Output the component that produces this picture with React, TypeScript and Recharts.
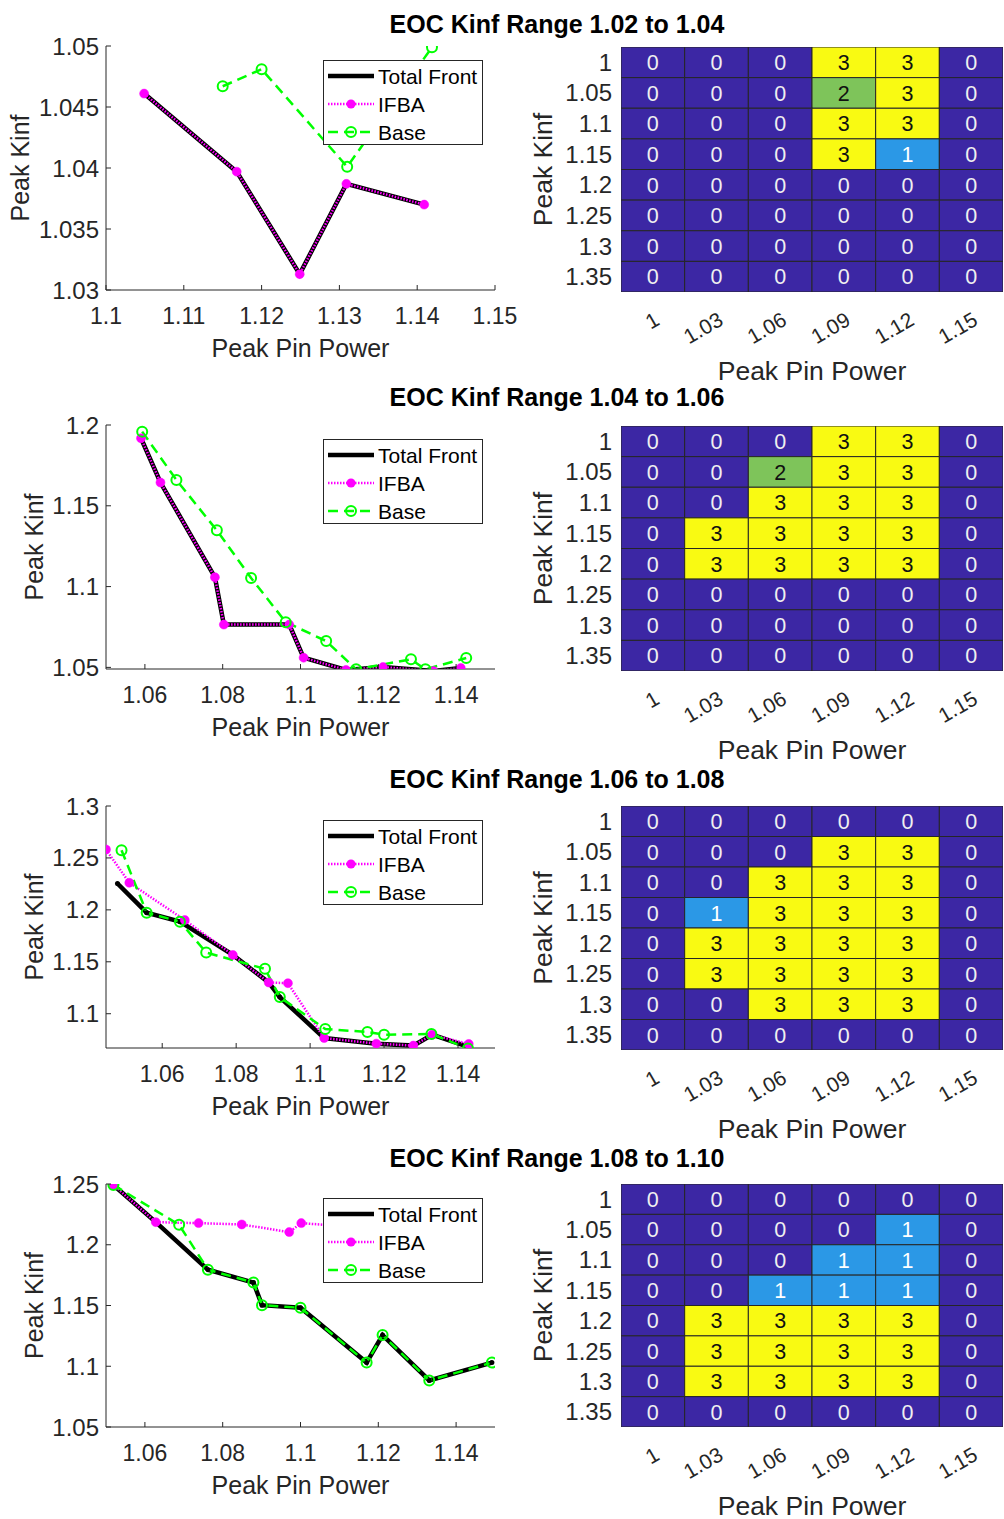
import React from 'react';
import { LineChart, Line, XAxis, YAxis, Legend, ScatterChart, Scatter } from 'recharts';

const FONT = '"Liberation Sans", Arial, Helvetica, sans-serif';
const AXIS = '#262626';
const C_FRONT = '#000000';
const C_IFBA = '#ff00ff';
const C_BASE = '#00ff00';

// ---------- Titles ----------
const TITLES = [
  'EOC Kinf Range 1.02 to 1.04',
  'EOC Kinf Range 1.04 to 1.06',
  'EOC Kinf Range 1.06 to 1.08',
  'EOC Kinf Range 1.08 to 1.10',
];

// ---------- Panel 1 ----------
const P1_FRONT_X = [1.1049, 1.1168, 1.1249, 1.1309, 1.1409];
const P1_FRONT_Y = [1.0461, 1.0397, 1.0313, 1.0387, 1.037];
const P1_IFBA_X = [1.1049, 1.1168, 1.1249, 1.1309, 1.1409];
const P1_IFBA_Y = [1.0461, 1.0397, 1.0313, 1.0387, 1.037];
const P1_BASE_X = [1.115, 1.12, 1.131, 1.1419];
const P1_BASE_Y = [1.0467, 1.0481, 1.0401, 1.0499];
const P1_X_TICKS = [1.1, 1.11, 1.12, 1.13, 1.14, 1.15];
const P1_Y_TICKS = [1.03, 1.035, 1.04, 1.045, 1.05];

// ---------- Panel 2 ----------
const P2_FRONT_X = [1.059, 1.064, 1.078, 1.0803, 1.0971, 1.1008, 1.1117, 1.1212, 1.1342, 1.1412];
const P2_FRONT_Y = [1.1918, 1.1644, 1.1058, 1.0765, 1.0765, 1.056, 1.0484, 1.0502, 1.0477, 1.0496];
const P2_IFBA_X = [1.059, 1.064, 1.078, 1.0803, 1.0971, 1.1008, 1.1117, 1.1212, 1.1342, 1.1412];
const P2_IFBA_Y = [1.1918, 1.1644, 1.1058, 1.0765, 1.0765, 1.056, 1.0484, 1.0502, 1.0477, 1.0496];
const P2_BASE_X = [1.0593, 1.0681, 1.0785, 1.0873, 1.0962, 1.1066, 1.1143, 1.1284, 1.1321, 1.1426];
const P2_BASE_Y = [1.1959, 1.166, 1.1348, 1.1053, 1.078, 1.0663, 1.0488, 1.055, 1.0488, 1.0558];
const P2_X_TICKS = [1.06, 1.08, 1.1, 1.12, 1.14];
const P2_Y_TICKS = [1.05, 1.1, 1.15, 1.2];

// ---------- Panel 3 ----------
const P3_FRONT_X = [1.0479, 1.0558, 1.0648, 1.0791, 1.0888, 1.0918, 1.1038, 1.1179, 1.1279, 1.133, 1.1429];
const P3_FRONT_Y = [1.2254, 1.1973, 1.1886, 1.1566, 1.1301, 1.116, 1.0766, 1.0712, 1.0693, 1.0798, 1.068];
const P3_IFBA_X = [1.0448, 1.0511, 1.0661, 1.0791, 1.0888, 1.094, 1.1038, 1.1179, 1.1279, 1.133, 1.1429];
const P3_IFBA_Y = [1.2581, 1.2261, 1.1902, 1.1566, 1.1301, 1.1294, 1.0766, 1.0712, 1.0693, 1.0798, 1.0709];
const P3_BASE_X = [1.049, 1.0558, 1.0648, 1.0719, 1.0878, 1.0918, 1.1041, 1.1155, 1.12, 1.1328, 1.1427];
const P3_BASE_Y = [1.2574, 1.1973, 1.1886, 1.1589, 1.1432, 1.116, 1.0853, 1.0824, 1.0798, 1.0805, 1.0665];
const P3_X_TICKS = [1.06, 1.08, 1.1, 1.12, 1.14];
const P3_Y_TICKS = [1.1, 1.15, 1.2, 1.25, 1.3];

// ---------- Panel 4 ----------
const P4_FRONT_X = [1.0519, 1.0628, 1.0762, 1.0879, 1.0901, 1.1, 1.117, 1.1211, 1.1331, 1.1492];
const P4_FRONT_Y = [1.2492, 1.2186, 1.1795, 1.1689, 1.1503, 1.1481, 1.103, 1.1257, 1.0883, 1.103];
const P4_IFBA_X = [1.0519, 1.0628, 1.0738, 1.0849, 1.0971, 1.1002, 1.112];
const P4_IFBA_Y = [1.2492, 1.2186, 1.2178, 1.2167, 1.2104, 1.2178, 1.215];
const P4_BASE_X = [1.0519, 1.0688, 1.0762, 1.0879, 1.0901, 1.1, 1.117, 1.1211, 1.1331, 1.1492];
const P4_BASE_Y = [1.2492, 1.2164, 1.1795, 1.1689, 1.1503, 1.1481, 1.103, 1.1257, 1.0883, 1.103];
const P4_X_TICKS = [1.06, 1.08, 1.1, 1.12, 1.14];
const P4_Y_TICKS = [1.05, 1.1, 1.15, 1.2, 1.25];

// ---------- Heatmaps ----------
const HM_COLS = ['1', '1.03', '1.06', '1.09', '1.12', '1.15'];
const HM_ROWS = ['1', '1.05', '1.1', '1.15', '1.2', '1.25', '1.3', '1.35'];
const HM1 = [
  [0, 0, 0, 3, 3, 0],
  [0, 0, 0, 2, 3, 0],
  [0, 0, 0, 3, 3, 0],
  [0, 0, 0, 3, 1, 0],
  [0, 0, 0, 0, 0, 0],
  [0, 0, 0, 0, 0, 0],
  [0, 0, 0, 0, 0, 0],
  [0, 0, 0, 0, 0, 0],
];
const HM2 = [
  [0, 0, 0, 3, 3, 0],
  [0, 0, 2, 3, 3, 0],
  [0, 0, 3, 3, 3, 0],
  [0, 3, 3, 3, 3, 0],
  [0, 3, 3, 3, 3, 0],
  [0, 0, 0, 0, 0, 0],
  [0, 0, 0, 0, 0, 0],
  [0, 0, 0, 0, 0, 0],
];
const HM3 = [
  [0, 0, 0, 0, 0, 0],
  [0, 0, 0, 3, 3, 0],
  [0, 0, 3, 3, 3, 0],
  [0, 1, 3, 3, 3, 0],
  [0, 3, 3, 3, 3, 0],
  [0, 3, 3, 3, 3, 0],
  [0, 0, 3, 3, 3, 0],
  [0, 0, 0, 0, 0, 0],
];
const HM4 = [
  [0, 0, 0, 0, 0, 0],
  [0, 0, 0, 0, 1, 0],
  [0, 0, 0, 1, 1, 0],
  [0, 0, 1, 1, 1, 0],
  [0, 3, 3, 3, 3, 0],
  [0, 3, 3, 3, 3, 0],
  [0, 3, 3, 3, 3, 0],
  [0, 0, 0, 0, 0, 0],
];

const HM_FILL: Record<number, string> = { 0: '#3c27a4', 1: '#2b98e6', 2: '#7ec45a', 3: '#f9fa12' };
const HM_TEXT: Record<number, string> = { 0: '#f0f0f0', 1: '#ffffff', 2: '#111111', 3: '#111111' };

const zip = (xs: number[], ys: number[]) => xs.map((x, i) => ({ x, y: ys[i] }));

// ---------- Tick components ----------
const BottomTick = (props: any) => {
  const { x, y, payload } = props;
  return (
    <g>
      <line x1={x} y1={y} x2={x} y2={y - 5} stroke={AXIS} strokeWidth={1} />
      <text x={x} y={y + 34} textAnchor="middle" fill={AXIS} fontSize={23} fontFamily={FONT}>
        {String(payload.value)}
      </text>
    </g>
  );
};
const TopTick = (props: any) => {
  const { x, y } = props;
  return <line x1={x} y1={y} x2={x} y2={y + 5} stroke={AXIS} strokeWidth={1} />;
};
const LeftTick = (props: any) => {
  const { x, y, payload } = props;
  return (
    <g>
      <line x1={x} y1={y} x2={x + 5} y2={y} stroke={AXIS} strokeWidth={1} />
      <text x={x - 7} y={y + 8.5} textAnchor="end" fill={AXIS} fontSize={24} fontFamily={FONT}>
        {String(payload.value)}
      </text>
    </g>
  );
};
const RightTick = (props: any) => {
  const { x, y } = props;
  return <line x1={x} y1={y} x2={x - 5} y2={y} stroke={AXIS} strokeWidth={1} />;
};

// ---------- Legend ----------
const LegendBox = () => (
  <div
    style={{
      width: 160,
      height: 85,
      background: '#ffffff',
      border: `1px solid ${AXIS}`,
      boxSizing: 'border-box',
    }}
  >
    <svg width={158} height={83} style={{ display: 'block' }}>
      <line x1={4} x2={50} y1={15} y2={15} stroke={C_FRONT} strokeWidth={4.5} />
      <text x={54} y={22.5} fontSize={21} fontFamily={FONT} fill="#000">Total Front</text>
      <line x1={4} x2={50} y1={43} y2={43} stroke={C_IFBA} strokeWidth={2.5} strokeDasharray="1.5 1.5" />
      <circle cx={27} cy={43} r={4.5} fill={C_IFBA} />
      <text x={54} y={50.5} fontSize={21} fontFamily={FONT} fill="#000">IFBA</text>
      <line x1={4} x2={50} y1={71} y2={71} stroke={C_BASE} strokeWidth={2.5} strokeDasharray="10 6" />
      <circle cx={27} cy={71} r={5} fill="none" stroke={C_BASE} strokeWidth={2} />
      <text x={54} y={78.5} fontSize={21} fontFamily={FONT} fill="#000">Base</text>
    </svg>
  </div>
);

// ---------- Line panel ----------
type LinePanelProps = {
  plotTop: number;
  plotBottom: number;
  xDomain: [number, number];
  xTicks: number[];
  yDomain: [number, number];
  yTicks: number[];
  front: { x: number; y: number }[];
  ifba: { x: number; y: number }[];
  base: { x: number; y: number }[];
  yLabelX: number;
};

function LinePanel(p: LinePanelProps) {
  const MT = 20;
  const MB = 80;
  const W = 530;
  const plotH = p.plotBottom - p.plotTop;
  const H = MT + plotH + MB;
  return (
    <div style={{ position: 'absolute', left: 0, top: p.plotTop - MT, width: W, height: H }}>
      <LineChart width={W} height={H} margin={{ top: MT, right: 35, bottom: 0, left: 0 }}>
        <XAxis
          xAxisId="b"
          type="number"
          dataKey="x"
          domain={p.xDomain}
          ticks={p.xTicks}
          interval={0}
          allowDataOverflow
          height={MB}
          tickSize={0}
          tickMargin={0}
          tickLine={false}
          axisLine={{ stroke: AXIS, strokeWidth: 1 }}
          tick={BottomTick}
          label={{
            value: 'Peak Pin Power',
            position: 'insideBottom',
            offset: MB - 67,
            fill: AXIS,
            fontSize: 25,
            fontFamily: FONT,
          }}
        />
        <XAxis
          xAxisId="t"
          orientation="top"
          type="number"
          domain={p.xDomain}
          ticks={p.xTicks}
          interval={0}
          allowDataOverflow
          height={0}
          tickSize={0}
          tickMargin={0}
          tickLine={false}
          axisLine={{ stroke: AXIS, strokeWidth: 1 }}
          tick={TopTick}
        />
        <YAxis
          yAxisId="l"
          type="number"
          domain={p.yDomain}
          ticks={p.yTicks}
          interval={0}
          allowDataOverflow
          width={106}
          tickSize={0}
          tickMargin={0}
          tickLine={false}
          axisLine={{ stroke: AXIS, strokeWidth: 1 }}
          tick={LeftTick}
          label={{
            value: 'Peak Kinf',
            angle: -90,
            position: 'insideLeft',
            offset: p.yLabelX,
            fill: AXIS,
            fontSize: 25,
            fontFamily: FONT,
            style: { textAnchor: 'middle' },
          }}
        />
        <YAxis
          yAxisId="r"
          orientation="right"
          type="number"
          domain={p.yDomain}
          ticks={p.yTicks}
          interval={0}
          allowDataOverflow
          width={0}
          tickSize={0}
          tickMargin={0}
          tickLine={false}
          axisLine={{ stroke: AXIS, strokeWidth: 1 }}
          tick={RightTick}
        />
        <Line
          xAxisId="b"
          yAxisId="l"
          data={p.front}
          dataKey="y"
          stroke={C_FRONT}
          strokeWidth={4.5}
          dot={{ r: 2.5, fill: C_FRONT, stroke: C_FRONT, strokeWidth: 0 }}
          activeDot={false}
          isAnimationActive={false}
        />
        <Line
          xAxisId="b"
          yAxisId="l"
          data={p.ifba}
          dataKey="y"
          stroke={C_IFBA}
          strokeWidth={2.5}
          strokeDasharray="1.5 1.5"
          dot={{ r: 4.5, fill: C_IFBA, stroke: C_IFBA, strokeWidth: 0.5, strokeDasharray: 'none' }}
          activeDot={false}
          isAnimationActive={false}
        />
        <Line
          xAxisId="b"
          yAxisId="l"
          data={p.base}
          dataKey="y"
          stroke={C_BASE}
          strokeWidth={2.5}
          strokeDasharray="10 6"
          dot={{ r: 5, fill: 'none', stroke: C_BASE, strokeWidth: 2, strokeDasharray: 'none' }}
          activeDot={false}
          isAnimationActive={false}
        />
        <Legend
          layout="vertical"
          align="center"
          verticalAlign="middle"
          content={LegendBox}
          wrapperStyle={{ left: 322.7, top: MT + 14, width: 160, height: 85 }}
        />
      </LineChart>
    </div>
  );
}

// ---------- Heatmap panel ----------
const HmXTick = (props: any) => {
  const { x, y, payload } = props;
  const label = HM_COLS[Math.floor(payload.value)];
  const px = x + 8;
  const py = y + 32;
  return (
    <text
      x={px}
      y={py}
      transform={`rotate(-30 ${px} ${py})`}
      textAnchor="end"
      fontSize={21}
      fontFamily={FONT}
      fill={AXIS}
    >
      {label}
    </text>
  );
};
const HmYTick = (props: any) => {
  const { x, y, payload } = props;
  const label = HM_ROWS[Math.floor(payload.value)];
  return (
    <text x={x - 9} y={y + 8.5} textAnchor="end" fontSize={24} fontFamily={FONT} fill={AXIS}>
      {label}
    </text>
  );
};

type HeatPanelProps = { plotTop: number; plotBottom: number; counts: number[][] };

function HeatPanel(p: HeatPanelProps) {
  const LEFT = 520;
  const W = 484;
  const MT = 10;
  const MB = 100;
  const YW = 101;
  const plotW = W - YW - 1;
  const plotH = p.plotBottom - p.plotTop;
  const H = MT + plotH + MB;
  const cw = plotW / HM_COLS.length;
  const ch = plotH / HM_ROWS.length;
  const cells = p.counts.flatMap((row, r) => row.map((v, c) => ({ x: c + 0.5, y: r + 0.5, v })));
  const colTicks = HM_COLS.map((_, i) => i + 0.5);
  const rowTicks = HM_ROWS.map((_, i) => i + 0.5);
  const Cell = (props: any) => {
    const { cx, cy, payload } = props;
    const v = payload.v as number;
    return (
      <g>
        <rect x={cx - cw / 2} y={cy - ch / 2} width={cw} height={ch} fill={HM_FILL[v]} stroke="#262626" strokeWidth={1} />
        <text x={cx} y={cy + 7.8} textAnchor="middle" fontSize={21.5} fontFamily={FONT} fill={HM_TEXT[v]}>
          {String(v)}
        </text>
      </g>
    );
  };
  return (
    <div style={{ position: 'absolute', left: LEFT, top: p.plotTop - MT, width: W, height: H }}>
      <ScatterChart width={W} height={H} margin={{ top: MT, right: 1, bottom: 0, left: 0 }}>
        <XAxis
          type="number"
          dataKey="x"
          domain={[0, HM_COLS.length]}
          ticks={colTicks}
          interval={0}
          allowDataOverflow
          height={MB}
          tickSize={0}
          tickMargin={0}
          tickLine={false}
          axisLine={false}
          tick={HmXTick}
          label={{
            value: 'Peak Pin Power',
            position: 'insideBottom',
            offset: MB - 88,
            fill: AXIS,
            fontSize: 26.5,
            fontFamily: FONT,
          }}
        />
        <YAxis
          type="number"
          dataKey="y"
          domain={[0, HM_ROWS.length]}
          reversed
          ticks={rowTicks}
          interval={0}
          allowDataOverflow
          width={YW}
          tickSize={0}
          tickMargin={0}
          tickLine={false}
          axisLine={false}
          tick={HmYTick}
          label={{
            value: 'Peak Kinf',
            angle: -90,
            position: 'insideLeft',
            offset: 23,
            fill: AXIS,
            fontSize: 26.5,
            fontFamily: FONT,
            style: { textAnchor: 'middle' },
          }}
        />
        <Scatter data={cells} shape={Cell} isAnimationActive={false} />
      </ScatterChart>
    </div>
  );
}

const TITLE_BASELINES = [33, 406, 788, 1167];

export default function App() {
  return (
    <div
      style={{
        position: 'absolute',
        left: 0,
        top: 0,
        width: 1004,
        height: 1519,
        background: '#ffffff',
        fontFamily: FONT,
      }}
    >
      <svg width={1004} height={1519} style={{ position: 'absolute', left: 0, top: 0 }}>
        {TITLES.map((t, i) => (
          <text
            key={t}
            x={557}
            y={TITLE_BASELINES[i]}
            textAnchor="middle"
            fontSize={25}
            fontWeight="bold"
            fontFamily={FONT}
            fill="#000"
          >
            {t}
          </text>
        ))}
      </svg>

      <LinePanel
        plotTop={46}
        plotBottom={290}
        xDomain={[1.1, 1.15]}
        xTicks={P1_X_TICKS}
        yDomain={[1.03, 1.05]}
        yTicks={P1_Y_TICKS}
        front={zip(P1_FRONT_X, P1_FRONT_Y)}
        ifba={zip(P1_IFBA_X, P1_IFBA_Y)}
        base={zip(P1_BASE_X, P1_BASE_Y)}
        yLabelX={20}
      />
      <LinePanel
        plotTop={425}
        plotBottom={669}
        xDomain={[1.05, 1.15]}
        xTicks={P2_X_TICKS}
        yDomain={[1.049, 1.2]}
        yTicks={P2_Y_TICKS}
        front={zip(P2_FRONT_X, P2_FRONT_Y)}
        ifba={zip(P2_IFBA_X, P2_IFBA_Y)}
        base={zip(P2_BASE_X, P2_BASE_Y)}
        yLabelX={34}
      />
      <LinePanel
        plotTop={806}
        plotBottom={1048}
        xDomain={[1.0448, 1.15]}
        xTicks={P3_X_TICKS}
        yDomain={[1.067, 1.3]}
        yTicks={P3_Y_TICKS}
        front={zip(P3_FRONT_X, P3_FRONT_Y)}
        ifba={zip(P3_IFBA_X, P3_IFBA_Y)}
        base={zip(P3_BASE_X, P3_BASE_Y)}
        yLabelX={34}
      />
      <LinePanel
        plotTop={1184}
        plotBottom={1427}
        xDomain={[1.05, 1.15]}
        xTicks={P4_X_TICKS}
        yDomain={[1.05, 1.25]}
        yTicks={P4_Y_TICKS}
        front={zip(P4_FRONT_X, P4_FRONT_Y)}
        ifba={zip(P4_IFBA_X, P4_IFBA_Y)}
        base={zip(P4_BASE_X, P4_BASE_Y)}
        yLabelX={34}
      />

      <HeatPanel plotTop={47} plotBottom={292} counts={HM1} />
      <HeatPanel plotTop={426} plotBottom={671} counts={HM2} />
      <HeatPanel plotTop={806} plotBottom={1050} counts={HM3} />
      <HeatPanel plotTop={1184} plotBottom={1427} counts={HM4} />
    </div>
  );
}
